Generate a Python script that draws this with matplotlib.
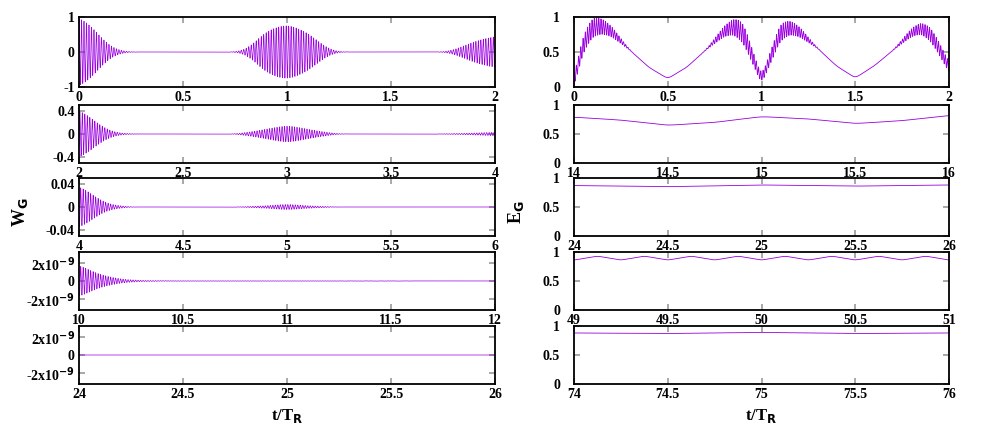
import numpy as np
import matplotlib
matplotlib.use("Agg")
import matplotlib.pyplot as plt

plt.rcParams['font.family'] = 'Liberation Serif'
plt.rcParams['font.weight'] = 'bold'

# ---- data (envelopes) ----
left_ranges = [(0, 2), (2, 4), (4, 6), (10, 12), (24, 26)]
right_ranges = [(0, 2), (14, 16), (24, 26), (49, 51), (74, 76)]

# W_G envelope knots per row
w_env_t = [
    [0, 0.05, 0.1, 0.15, 0.2, 0.25, 0.75, 0.8, 0.85, 0.9, 1.0, 1.1, 1.15, 1.2, 1.25, 1.75, 1.8, 1.9, 2.0],
    [2, 2.05, 2.1, 2.15, 2.2, 2.3, 2.75, 2.85, 3.0, 3.15, 3.25, 3.7, 3.85, 4.0],
    [4, 4.05, 4.1, 4.15, 4.25, 4.75, 4.9, 5.0, 5.1, 5.25, 6.0],
    [10, 10.05, 10.1, 10.2, 10.3, 10.5, 12.0],
    [24, 26],
]
w_env_v = [
    [1.0, 0.8, 0.45, 0.15, 0.03, 0.0, 0.0, 0.05, 0.3, 0.6, 0.8, 0.55, 0.3, 0.08, 0.0, 0.0, 0.05, 0.3, 0.45],
    [0.42, 0.3, 0.15, 0.05, 0.01, 0.0, 0.0, 0.05, 0.15, 0.05, 0.0, 0.0, 0.01, 0.03],
    [0.037, 0.025, 0.012, 0.004, 0.0, 0.0, 0.002, 0.005, 0.002, 0.0, 0.0],
    [1.8e-9, 1.2e-9, 7e-10, 2e-10, 5e-11, 2e-11, 1e-11],
    [0.0, 0.0],
]
w_ylims = [(-1, 1), (-0.5, 0.5), (-0.05, 0.05), (-3.2e-9, 3.2e-9), (-3.2e-9, 3.2e-9)]
w_yticks = [[-1, 0, 1], [-0.4, 0, 0.4], [-0.04, 0, 0.04], [-2e-9, 0, 2e-9], [-2e-9, 0, 2e-9]]
w_yticklabels = [["-1", "0", "1"], ["-0.4", "0", "0.4"], ["-0.04", "0", "0.04"],
                 ["-2x10$^{\\mathbf{-9}}$", "0", "2x10$^{\\mathbf{-9}}$"],
                 ["-2x10$^{\\mathbf{-9}}$", "0", "2x10$^{\\mathbf{-9}}$"]]

# E_G baseline knots and oscillation band amplitude
e_base_t = [
    [0, 0.05, 0.1, 0.15, 0.2, 0.3, 0.4, 0.5, 0.6, 0.7, 0.8, 0.85, 0.9, 0.95, 1.0, 1.05, 1.1, 1.15, 1.2, 1.3, 1.4, 1.5, 1.6, 1.7, 1.8, 1.85, 1.9, 1.95, 2.0],
    [14, 14.25, 14.5, 14.75, 15, 15.25, 15.5, 15.75, 16],
    [24, 24.5, 25, 25.5, 26],
    [49, 49.125, 49.25, 49.375, 49.5, 49.625, 49.75, 49.875, 50, 50.125, 50.25, 50.375, 50.5, 50.625, 50.75, 50.875, 51],
    [74, 74.5, 75, 75.5, 76],
]
e_base_v = [
    [0.0, 0.5, 0.72, 0.76, 0.72, 0.52, 0.28, 0.12, 0.28, 0.52, 0.72, 0.75, 0.64, 0.35, 0.04, 0.35, 0.66, 0.75, 0.72, 0.55, 0.3, 0.13, 0.3, 0.52, 0.72, 0.76, 0.66, 0.45, 0.2],
    [0.79, 0.74, 0.65, 0.7, 0.8, 0.76, 0.68, 0.73, 0.82],
    [0.87, 0.85, 0.88, 0.86, 0.88],
    [0.86, 0.93, 0.86, 0.93, 0.86, 0.93, 0.86, 0.93, 0.86, 0.93, 0.86, 0.93, 0.86, 0.93, 0.86, 0.93, 0.86],
    [0.88, 0.87, 0.89, 0.87, 0.88],
]
e_osc_t = [[0, 0.05, 0.1, 0.2, 0.3, 0.7, 0.8, 0.9, 1.0, 1.1, 1.2, 1.3, 1.7, 1.8, 1.9, 2.0]]
e_osc_v = [[0.15, 0.25, 0.28, 0.15, 0.0, 0.0, 0.15, 0.3, 0.1, 0.25, 0.15, 0.0, 0.0, 0.12, 0.2, 0.15]]

carrier_period = 0.012
color = '#9a00e0'

W, H = 981, 436
fig = plt.figure(figsize=(W / 100, H / 100), dpi=100)

def px(x0, y0, x1, y1):
    return [x0 / W, 1 - y1 / H, (x1 - x0) / W, (y1 - y0) / H]

def smooth(y, n):
    k = np.exp(-0.5 * (np.arange(-3 * n, 3 * n + 1) / n) ** 2)
    k /= k.sum()
    yp = np.pad(y, 3 * n, mode='edge')
    return np.convolve(yp, k, mode='same')[3 * n:-3 * n]

rows = [(17, 87), (105, 163), (178, 236), (252, 310), (326, 384)]

def style(ax, ypad=3):
    ax.tick_params(direction='in', color='#999999', labelsize=10, width=1.2, length=4,
                   top=True, right=True, pad=3)
    ax.tick_params(axis='y', pad=ypad)
    for s in ax.spines.values():
        s.set_linewidth(1.3)

def fmt(v):
    return ("%g" % v)

N = 20000
for i, (y0, y1) in enumerate(rows):
    ax = fig.add_axes(px(79, y0, 495, y1))
    a, b = left_ranges[i]
    t = np.linspace(a, b, N)
    env = smooth(np.interp(t, w_env_t[i], w_env_v[i]), 300)
    ax.plot(t, env * np.cos(2 * np.pi * t / carrier_period), color=color, lw=0.5)
    ax.set_xlim(a, b)
    ax.set_ylim(*w_ylims[i])
    xt = np.arange(a, b + 0.01, 0.5)
    ax.set_xticks(xt)
    ax.set_xticklabels([fmt(v) for v in xt])
    ax.set_yticks(w_yticks[i])
    ax.set_yticklabels(w_yticklabels[i])
    style(ax)
    if i == 4:
        ax.set_xlabel("t/T$_\\mathbf{R}$", fontsize=12, fontweight='bold', labelpad=4)

    ax = fig.add_axes(px(574, y0, 949, y1))
    a, b = right_ranges[i]
    t = np.linspace(a, b, N)
    base = smooth(np.interp(t, e_base_t[i], e_base_v[i]), {0: 120, 3: 120}.get(i, 250))
    if i < len(e_osc_t):
        amp = smooth(np.interp(t, e_osc_t[i], e_osc_v[i]), 200)
        y = base + amp * 0.5 * (1 + np.cos(2 * np.pi * t / carrier_period))
    else:
        y = base
    ax.plot(t, y, color=color, lw=0.6)
    ax.set_xlim(a, b)
    ax.set_ylim(0, 1)
    xt = np.arange(a, b + 0.01, 0.5)
    ax.set_xticks(xt)
    ax.set_xticklabels([fmt(v) for v in xt])
    ax.set_yticks([0, 0.5, 1])
    ax.set_yticklabels(["0", "0.5", "1"])
    style(ax, ypad=10)
    if i == 4:
        ax.set_xlabel("t/T$_\\mathbf{R}$", fontsize=12, fontweight='bold', labelpad=4)

fig.text(20 / W, 1 - 212 / H, "W$_\\mathbf{G}$", rotation=90, fontsize=13, ha='center', va='center', fontweight='bold')
fig.text(516 / W, 1 - 212 / H, "E$_\\mathbf{G}$", rotation=90, fontsize=13, ha='center', va='center', fontweight='bold')

fig.savefig("out.png", dpi=100)
